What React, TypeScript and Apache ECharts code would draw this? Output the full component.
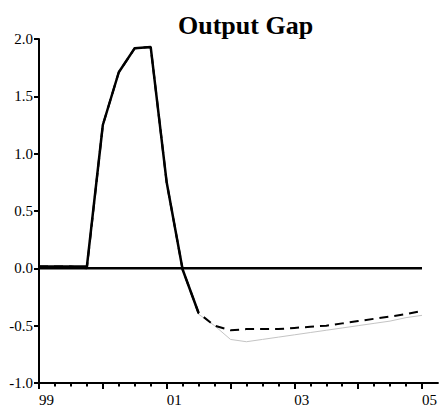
import React, { useEffect, useRef } from "react";
import * as echarts from "echarts";

// quarter index: 0 = 1999Q1 ... 24 = 2005Q1
const quarters = Array.from({ length: 25 }, (_, i) => i);
const yearTicks = [0, 4, 8, 12, 16, 20, 24];
const yearLabelPos = [0, 8, 16, 24];
const yearLabels = ["99", "01", "03", "05"];

// thick solid line (first part of the response)
const solidValues = [
  0.015, 0.015, 0.015, 0.015, 1.25, 1.71, 1.92, 1.93, 0.75, -0.01, -0.39,
  null, null, null, null, null, null, null, null, null, null, null, null, null, null,
];
// dashed black line
const dashedValues = [
  0.015, 0.015, 0.015, 0.0, 1.25, 1.71, 1.92, 1.93, 0.75, -0.01, -0.39,
  -0.5, -0.54, -0.53, -0.53, -0.53, -0.52, -0.51, -0.5, -0.48, -0.46, -0.44, -0.42, -0.4, -0.37,
];
// thin gray line
const grayValues = [
  0.015, 0.015, 0.015, 0.0, 1.25, 1.71, 1.92, 1.93, 0.75, -0.01, -0.4,
  -0.5, -0.62, -0.64, -0.62, -0.6, -0.58, -0.56, -0.54, -0.52, -0.5, -0.48, -0.46, -0.43, -0.41,
];
const zeroValues = quarters.map(() => 0);

const FONT = "Liberation Serif";

export default function App() {
  const ref = useRef<HTMLDivElement>(null);
  useEffect(() => {
    if (!ref.current) return;
    const chart = echarts.init(ref.current, null, { renderer: "svg" });
    const pair = (arr: (number | null)[]) => quarters.map((q, i) => [q, arr[i]]);
    chart.setOption({
      animation: false,
      backgroundColor: "#ffffff",
      textStyle: { fontFamily: FONT, color: "#000" },
      title: {
        text: "Output Gap",
        left: 178,
        top: 12,
        padding: 0,
        textStyle: { fontFamily: FONT, fontWeight: "bold", fontSize: 26, color: "#000" },
      },
      grid: { left: 39, top: 39, width: 400, height: 344, containLabel: false },
      xAxis: [
        {
          type: "value",
          min: 0,
          max: 25,
          interval: 4,
          position: "bottom",
          axisLine: { show: true, onZero: false, lineStyle: { color: "#000", width: 2 } },
          axisTick: { show: true, length: 6, customValues: yearTicks, lineStyle: { color: "#000", width: 2 } },
          axisLabel: {
            show: true,
            customValues: yearLabelPos,
            formatter: (v: number) => {
              const i = yearLabelPos.indexOf(v);
              return i >= 0 ? yearLabels[i] : "";
            },
            align: "left",
            margin: 9,
            fontFamily: FONT,
            fontSize: 15,
            color: "#000",
          },
          splitLine: { show: false },
        },
        {
          type: "value",
          min: 0,
          max: 25,
          interval: 1,
          position: "bottom",
          axisLine: { show: false, onZero: false },
          axisTick: { show: true, length: 3.5, customValues: quarters, lineStyle: { color: "#000", width: 2 } },
          axisLabel: { show: false },
          splitLine: { show: false },
        },
      ],
      yAxis: {
        type: "value",
        min: -1,
        max: 2,
        interval: 0.5,
        axisLine: { show: true, onZero: false, lineStyle: { color: "#000", width: 2 } },
        axisTick: { show: true, length: 5, lineStyle: { color: "#000", width: 2 } },
        axisLabel: {
          formatter: (v: number) => v.toFixed(1),
          margin: 6,
          fontFamily: FONT,
          fontSize: 15,
          color: "#000",
        },
        splitLine: { show: false },
      },
      series: [
        {
          type: "line",
          data: pair(grayValues),
          showSymbol: false,
          lineStyle: { color: "#c4c4c4", width: 1 },
          z: 1,
        },
        {
          type: "line",
          data: pair(dashedValues),
          showSymbol: false,
          lineStyle: { color: "#000", width: 2, type: [9, 6] },
          z: 2,
        },
        {
          type: "line",
          data: pair(solidValues),
          showSymbol: false,
          connectNulls: false,
          lineStyle: { color: "#000", width: 2.5 },
          z: 3,
        },
        {
          type: "line",
          data: pair(zeroValues),
          showSymbol: false,
          lineStyle: { color: "#000", width: 2.5 },
          z: 4,
        },
      ],
    });
    return () => chart.dispose();
  }, []);
  return (
    <div
      ref={ref}
      style={{ position: "fixed", left: 0, top: 0, width: 440, height: 408, background: "#fff" }}
    />
  );
}
